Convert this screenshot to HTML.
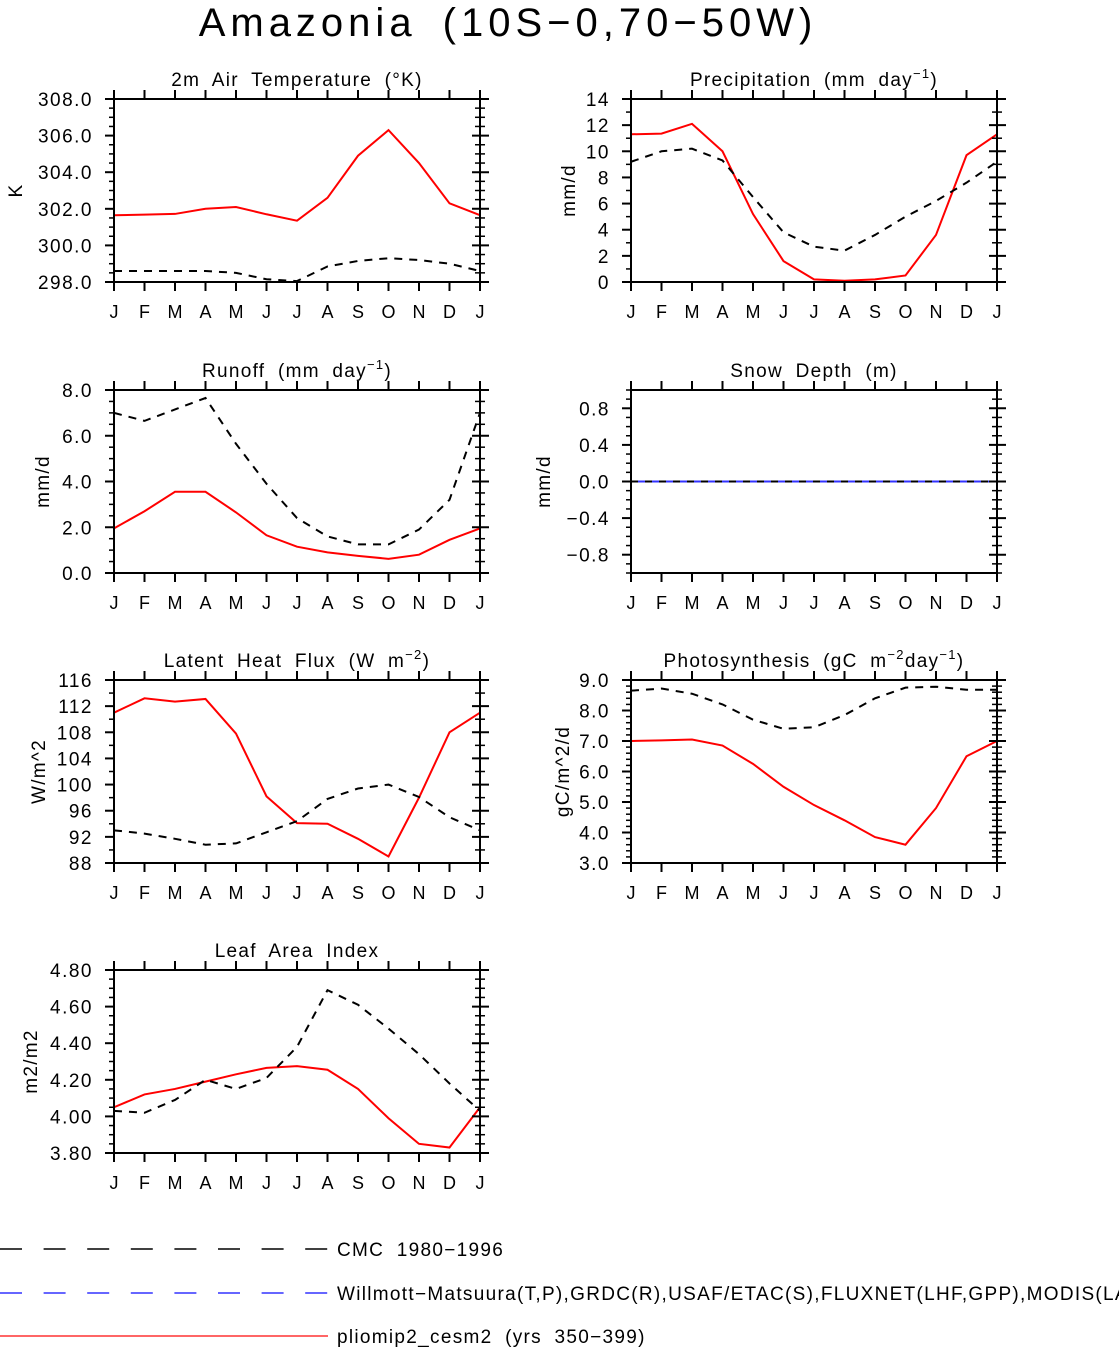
<!DOCTYPE html>
<html><head><meta charset="utf-8"><style>
html,body{margin:0;padding:0;background:#fff;}
svg{display:block;font-family:"Liberation Sans",sans-serif;}
</style></head><body>
<svg id="fig" width="1119" height="1349" viewBox="0 0 1119 1349">
<text x="508" y="36" font-size="40" text-anchor="middle" letter-spacing="5" word-spacing="10" fill="#000">Amazonia (10S−0,70−50W)</text>
<g>
<line x1="0" y1="1249" x2="328" y2="1249" stroke="#000" stroke-width="1.5" stroke-dasharray="22,21.6"/>
<text x="337" y="1256" font-size="19" letter-spacing="1.3" word-spacing="6">CMC 1980−1996</text>
<line x1="0" y1="1293" x2="328" y2="1293" stroke="#33f" stroke-width="1.5" stroke-dasharray="22,21.6"/>
<text x="337" y="1300" font-size="19" letter-spacing="1.3">Willmott−Matsuura(T,P),GRDC(R),USAF/ETAC(S),FLUXNET(LHF,GPP),MODIS(LAI)</text>
<line x1="0" y1="1336" x2="328" y2="1336" stroke="#f33" stroke-width="1.5"/>
<text x="337" y="1343" font-size="19" letter-spacing="1.3" word-spacing="6">pliomip2_cesm2 (yrs 350−399)</text>
</g>
</svg>
<script>
const months=["J","F","M","A","M","J","J","A","S","O","N","D","J"];
const tempModel=[301.65,301.68,301.72,302.0,302.1,301.7,301.35,302.6,304.9,306.3,304.5,302.3,301.65];
const tempObs=[298.6,298.6,298.6,298.6,298.5,298.15,298.05,298.85,299.15,299.3,299.2,299.0,298.6];
const precModel=[11.3,11.35,12.1,10.0,5.2,1.6,0.2,0.1,0.2,0.5,3.6,9.7,11.3];
const precObs=[9.2,10.0,10.2,9.3,6.5,3.8,2.7,2.4,3.6,5.0,6.2,7.6,9.2];
const runModel=[1.95,2.7,3.55,3.55,2.65,1.65,1.15,0.9,0.75,0.62,0.8,1.45,1.95];
const runObs=[7.0,6.65,7.15,7.65,5.65,3.9,2.4,1.6,1.25,1.25,1.9,3.2,7.0];
const snowModel=[0,0,0,0,0,0,0,0,0,0,0,0,0];
const snowObs=[0,0,0,0,0,0,0,0,0,0,0,0,0];
const lhfModel=[111,113.2,112.7,113.1,107.8,98.2,94.1,94.0,91.7,89.0,98.0,108,111];
const lhfObs=[93,92.5,91.7,90.8,91.0,92.7,94.4,97.8,99.4,100,98.1,95,93];
const gppModel=[7.0,7.02,7.05,6.85,6.25,5.5,4.9,4.4,3.85,3.6,4.8,6.5,7.0];
const gppObs=[8.65,8.72,8.55,8.2,7.7,7.4,7.45,7.85,8.4,8.75,8.78,8.68,8.68];
const laiModel=[4.05,4.12,4.15,4.19,4.23,4.265,4.275,4.255,4.15,3.99,3.85,3.83,4.05];
const laiObs=[4.03,4.02,4.09,4.20,4.15,4.21,4.38,4.69,4.61,4.48,4.34,4.18,4.03];
const tempTicks=[298,300,302,304,306,308];
const precTicks=[0,2,4,6,8,10,12,14];
const runTicks=[0,2,4,6,8];
const snowTicks=[-0.8,-0.4,0,0.4,0.8];
const lhfTicks=[88,92,96,100,104,108,112,116];
const gppTicks=[3,4,5,6,7,8,9];
const laiTicks=[3.8,4.0,4.2,4.4,4.6,4.8];

const NS="http://www.w3.org/2000/svg";
const svg=document.getElementById('fig');
function mk(tag,attrs,parent){const e=document.createElementNS(NS,tag);for(const k in attrs)e.setAttribute(k,attrs[k]);(parent||svg).appendChild(e);return e;}

const panels=[
 {id:'air-temperature',x:114,y:99,ymin:298,ymax:308,ticks:tempTicks,dec:1,minor:3,ylab:'K',ylx:15,title:['2m Air Temperature (°K)'],m:tempModel,o:tempObs},
 {id:'precipitation',x:631,y:99,ymin:0,ymax:14,ticks:precTicks,dec:0,minor:1,ylab:'mm/d',ylx:568,title:['Precipitation (mm day','−1',')'],m:precModel,o:precObs},
 {id:'runoff',x:114,y:390,ymin:0,ymax:8,ticks:runTicks,dec:1,minor:3,ylab:'mm/d',ylx:42,title:['Runoff (mm day','−1',')'],m:runModel,o:runObs},
 {id:'snow-depth',x:631,y:390,ymin:-1,ymax:1,ticks:snowTicks,dec:1,minor:3,ylab:'mm/d',ylx:543,title:['Snow Depth (m)'],m:snowModel,o:snowObs,snow:true},
 {id:'latent-heat-flux',x:114,y:680,ymin:88,ymax:116,ticks:lhfTicks,dec:0,minor:1,ylab:'W/m^2',ylx:38,title:['Latent Heat Flux (W m','−2',')'],m:lhfModel,o:lhfObs},
 {id:'photosynthesis',x:631,y:680,ymin:3,ymax:9,ticks:gppTicks,dec:1,minor:4,ylab:'gC/m^2/d',ylx:562,title:['Photosynthesis (gC m','−2','day','−1',')'],m:gppModel,o:gppObs},
 {id:'leaf-area-index',x:114,y:970,ymin:3.8,ymax:4.8,ticks:laiTicks,dec:2,minor:3,ylab:'m2/m2',ylx:30,title:['Leaf Area Index'],m:laiModel,o:laiObs}
];
const W=366,H=183;
panels.forEach(p=>{
 const g=mk('g',{});
 
 
 const xs=i=>p.x+i*W/12;
 const ys=v=>p.y+H-(v-p.ymin)/(p.ymax-p.ymin)*H;
 const t=mk('text',{x:p.x+W/2,y:p.y-13,'font-size':19,'text-anchor':'middle','letter-spacing':1.3,'word-spacing':6},g);
 
 
 p.title.forEach((s,i)=>{const ts=mk('tspan',{},t);ts.textContent=s;if(i%2==1){ts.setAttribute('font-size','13');ts.setAttribute('dy','-8');}else if(i>0){ts.setAttribute('dy','8');}});
 const yl=mk('text',{x:0,y:0,'font-size':19,'text-anchor':'middle','letter-spacing':1.3,transform:`translate(${p.ylx+7},${p.y+H/2}) rotate(-90)`},g);
 yl.textContent=p.ylab;
 
 
 const line=(arr,col,dash,name)=>{const l=mk('polyline',{points:arr.map((v,i)=>xs(i)+','+ys(v)).join(' '),fill:'none',stroke:col,'stroke-width':2,'stroke-dasharray':dash},g);
  
  };
 if(p.snow){line(p.m,'#f00','none',p.id+'-model-line');line(p.o,'#33f','none',p.id+'-obs-line');line(p.o,'#000','7,7',p.id+'-cmc-line');}
 else{line(p.m,'#f00','none',p.id+'-model-line');line(p.o,'#000','8,7',p.id+'-obs-line');}
 const r=mk('rect',{x:p.x,y:p.y,width:W,height:H,fill:'none',stroke:'#000','stroke-width':2},g);
 
 
 months.forEach((m,i)=>{const x=xs(i);
  mk('line',{x1:x,x2:x,y1:p.y+H,y2:p.y+H+9,stroke:'#000','stroke-width':2},g);
  mk('line',{x1:x,x2:x,y1:p.y,y2:p.y-9,stroke:'#000','stroke-width':2},g);
  const tl=mk('text',{x:x,y:p.y+H+36,'font-size':18,'text-anchor':'middle'},g);tl.textContent=m;
  
  });
 const step=p.ticks[1]-p.ticks[0];
 p.ticks.forEach(v=>{const y=ys(v);
  mk('line',{x1:p.x-9,x2:p.x,y1:y,y2:y,stroke:'#000','stroke-width':2},g);
  mk('line',{x1:p.x+W-8,x2:p.x+W+9,y1:y,y2:y,stroke:'#000','stroke-width':2},g);
  let s=Math.abs(v)<1e-9?(0).toFixed(p.dec):v.toFixed(p.dec);s=s.replace('-','−');
  const tl=mk('text',{x:p.x-21,y:y+7,'font-size':19,'text-anchor':'end','letter-spacing':1.5},g);tl.textContent=s;
  
  });
 const ms=step/(p.minor+1);
 for(let v=p.ymin;v<=p.ymax+1e-9;v+=ms){
  const isMaj=p.ticks.some(t=>Math.abs(t-v)<1e-6);if(isMaj)continue;const y=ys(v);
  mk('line',{x1:p.x-5,x2:p.x,y1:y,y2:y,stroke:'#000','stroke-width':1.5},g);
  mk('line',{x1:p.x+W-5,x2:p.x+W+5,y1:y,y2:y,stroke:'#000','stroke-width':1.5},g);}
});
</script>
</body></html>
